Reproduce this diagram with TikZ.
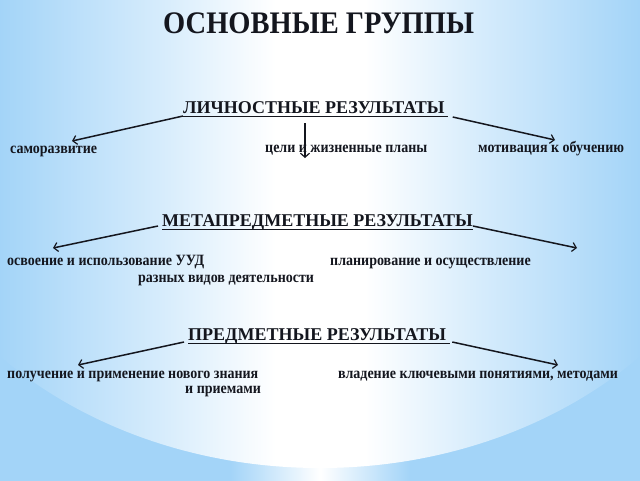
\documentclass[tikz,border=0pt]{standalone}
\usepackage{graphicx}
\usepackage{fontspec}
\setmainfont{Liberation Serif}
\usetikzlibrary{arrows.meta,calc}
\definecolor{bgblue}{RGB}{163,212,248}
\definecolor{inkc}{RGB}{20,22,30}
\newcommand\tallTxt[2]{\scalebox{1}[#1]{#2}}
\pgfdeclarehorizontalshading{narrowbg}{100bp}{color(0bp)=(bgblue); color(25bp)=(bgblue); color(43bp)=(bgblue); color(50bp)=(white); color(57bp)=(bgblue); color(75bp)=(bgblue); color(100bp)=(bgblue)}
\pgfdeclarehorizontalshading{widebg}{100bp}{color(0bp)=(bgblue); color(32bp)=(bgblue); color(41bp)=(bgblue!45!white); color(47.5bp)=(white); color(52.5bp)=(white); color(59bp)=(bgblue!45!white); color(68bp)=(bgblue); color(100bp)=(bgblue)}
\tikzset{
  titletxt/.style={inner sep=0pt, anchor=base west, text=inkc, font=\fontsize{28.5}{34}\selectfont\bfseries},
  headtxt/.style={inner sep=0pt, anchor=base west, text=inkc, font=\fontsize{18}{22}\selectfont\bfseries},
  rowtxt/.style={inner sep=0pt, anchor=base west, text=inkc, font=\fontsize{14}{17}\selectfont\bfseries},
  uline/.style={line width=1.2pt, draw=inkc},
  conn/.style={line width=1.5pt, draw=inkc, -{Straight Barb[length=4pt,width=9pt,line width=1.2pt]}}
}
\begin{document}
\begin{tikzpicture}[x=1pt,y=-1pt]
\useasboundingbox (0,0) rectangle (640,480);
% background (drawn with an upright y axis)
\begin{scope}[y=1pt]
\clip (0,-480) rectangle (640,0);
\shade[shading=narrowbg] (0,-480) rectangle (640,0);
\shade[shading=widebg] (320,-100) ellipse [x radius=446pt, y radius=368pt];
\end{scope}
% title
\node[titletxt] (title) at (163,33) {\tallTxt{1.1}{ОСНОВНЫЕ ГРУППЫ}};
% headings
\node[headtxt] (h1) at (183,113) {ЛИЧНОСТНЫЕ РЕЗУЛЬТАТЫ};
\node[headtxt] (h2) at (162,226) {МЕТАПРЕДМЕТНЫЕ РЕЗУЛЬТАТЫ};
\node[headtxt] (h3) at (188,340) {ПРЕДМЕТНЫЕ РЕЗУЛЬТАТЫ};
\draw[uline] ($(h1.base west)+(0,3.5)$) -- ($(h1.base east)+(3,3.5)$);
\draw[uline] ($(h2.base west)+(0,3.5)$) -- ($(h2.base east)+(0,3.5)$);
\draw[uline] ($(h3.base west)+(0,3.5)$) -- ($(h3.base east)+(4,3.5)$);
% row texts
\node[rowtxt] (r1a) at (10,153) {\tallTxt{1.12}{саморазвитие}};
\node[rowtxt] (r1b) at (265,152) {\tallTxt{1.12}{цели и жизненные планы}};
\node[rowtxt] (r1c) at (478,152) {\tallTxt{1.12}{мотивация к обучению}};
\node[rowtxt] (r2a) at (7,265) {\tallTxt{1.12}{освоение и использование УУД}};
\node[rowtxt] (r2b) at (138,282) {\tallTxt{1.12}{разных видов деятельности}};
\node[rowtxt] (r2c) at (330,265) {\tallTxt{1.12}{планирование и осуществление}};
\node[rowtxt] (r3a) at (7,378) {\tallTxt{1.12}{получение и применение нового знания}};
\node[rowtxt] (r3b) at (185,393) {\tallTxt{1.12}{и приемами}};
\node[rowtxt] (r3c) at (338,378) {\tallTxt{1.12}{владение ключевыми понятиями, методами}};
% arrow ends
\coordinate (s1a) at ($(h1.base west)+(0,3)$);
\coordinate (s1c) at ($(h1.base east)+(8,4)$);
\coordinate (s1b) at (305,123);
\coordinate (t1a) at (72,141);
\coordinate (t1b) at (305,158);
\coordinate (t1c) at (555,140);
\coordinate (s2a) at ($(h2.base west)+(-4,0)$);
\coordinate (s2c) at ($(h2.base east)+(0,0)$);
\coordinate (t2a) at (53,248);
\coordinate (t2c) at (577,248);
\coordinate (s3a) at ($(h3.base west)+(-4,2)$);
\coordinate (s3c) at ($(h3.base east)+(6,2)$);
\coordinate (t3a) at (78,365);
\coordinate (t3c) at (558,365);
\draw[conn] (s1a) -- (t1a);
\draw[conn] (s1b) -- (t1b);
\draw[conn] (s1c) -- (t1c);
\draw[conn] (s2a) -- (t2a);
\draw[conn] (s2c) -- (t2c);
\draw[conn] (s3a) -- (t3a);
\draw[conn] (s3c) -- (t3c);
\end{tikzpicture}
\end{document}
